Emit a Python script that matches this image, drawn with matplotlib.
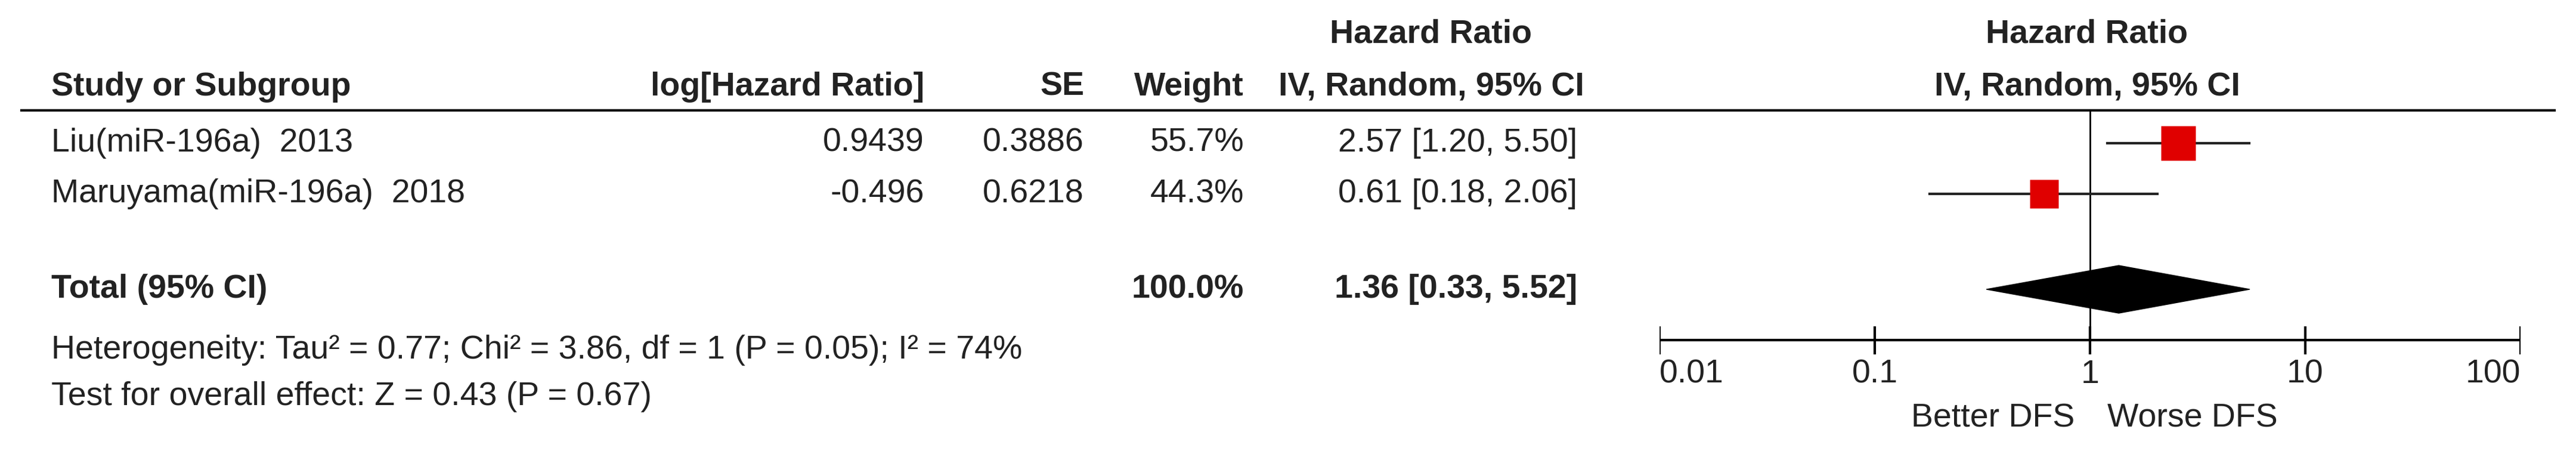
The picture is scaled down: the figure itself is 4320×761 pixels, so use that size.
import matplotlib
matplotlib.use('Agg')
import matplotlib.pyplot as plt
from matplotlib.patches import Polygon

# data
studies = ['Liu(miR-196a)  2013', 'Maruyama(miR-196a)  2018']
log_hr = ['0.9439', '-0.496']
se = ['0.3886', '0.6218']
weights = ['55.7%', '44.3%']
hr = [2.57, 0.61]
lo = [1.20, 0.18]
hi = [5.50, 2.06]
box_pt = [42, 35]
total_hr, total_lo, total_hi = 1.36, 0.33, 5.52
ticks = [0.01, 0.1, 1, 10, 100]
tick_labels = ['0.01', '0.1', '1', '10', '100']

W, H = 4320, 761
FS = 40
FONT = 'Liberation Sans'
plt.rcParams['font.family'] = [FONT, 'DejaVu Sans']

fig = plt.figure(figsize=(W / 100, H / 100), dpi=100)
ax = fig.add_axes([0, 0, 1, 1])
ax.set_xlim(0, W)
ax.set_ylim(H, 0)
ax.axis('off')

row_y = [240, 325]
tot_y = 485
col = '#222222'

def t(x, y, s, ha='left', bold=False, **kw):
    ax.text(x, y, s, ha=ha, va='center', fontsize=FS, color=col,
            fontweight='bold' if bold else 'normal', **kw)

# headers
t(2400, 58, 'Hazard Ratio', ha='center', bold=True)
t(3500, 58, 'Hazard Ratio', ha='center', bold=True)
t(86, 146, 'Study or Subgroup', bold=True)
t(1550, 146, 'log[Hazard Ratio]', ha='right', bold=True)
t(1818, 146, 'SE', ha='right', bold=True)
t(2086, 146, 'Weight', ha='right', bold=True)
t(2400, 146, 'IV, Random, 95% CI', ha='center', bold=True)
t(3500, 146, 'IV, Random, 95% CI', ha='center', bold=True)
ax.plot([34, 4286], [185, 185], color='black', lw=3, solid_capstyle='butt')

for i, y in enumerate(row_y):
    t(86, y, studies[i])
    t(1550, y, log_hr[i], ha='right')
    t(1818, y, se[i], ha='right')
    t(2086, y, weights[i], ha='right')
    t(2645, y, f'{hr[i]:.2f} [{lo[i]:.2f}, {hi[i]:.2f}]', ha='right')

t(86, tot_y, 'Total (95% CI)', bold=True)
t(2086, tot_y, '100.0%', ha='right', bold=True)
t(2645, tot_y, f'{total_hr:.2f} [{total_lo:.2f}, {total_hi:.2f}]', ha='right', bold=True)
t(86, 587, 'Heterogeneity: Tau\u00b2 = 0.77; Chi\u00b2 = 3.86, df = 1 (P = 0.05); I\u00b2 = 74%')
t(86, 665, 'Test for overall effect: Z = 0.43 (P = 0.67)')

# forest panel
fx0, fx1 = 2783, 4227
fa = fig.add_axes([fx0 / W, 0, (fx1 - fx0) / W, 1])
fa.set_xscale('log')
fa.set_xlim(0.01, 100)
fa.set_ylim(H, 0)
fa.axis('off')
fa.patch.set_alpha(0)

fa.plot([1, 1], [186, 570], color='black', lw=2)
for i, y in enumerate(row_y):
    fa.plot([lo[i], hi[i]], [y, y], color=col, lw=3)
    fa.plot([hr[i]], [y], marker='s', ms=box_pt[i], color='#e00000', mec='none')

fa.add_patch(Polygon([(total_lo, tot_y), (total_hr, tot_y - 40),
                      (total_hi, tot_y), (total_hr, tot_y + 40)],
                     closed=True, color='black'))

fa.plot([0.01, 100], [570, 570], color='black', lw=3, solid_capstyle='butt')
for tk in ticks:
    fa.plot([tk, tk], [547, 594], color='black', lw=3, solid_capstyle='butt')
ax.text(fx0, 628, tick_labels[0], ha='left', va='center', fontsize=FS, color=col)
for tk, lb in zip(ticks[1:-1], tick_labels[1:-1]):
    fa.text(tk, 628, lb, ha='center', va='center', fontsize=FS, color=col)
ax.text(fx1, 628, tick_labels[-1], ha='right', va='center', fontsize=FS, color=col)
fa.text(0.85, 702, 'Better DFS', ha='right', va='center', fontsize=FS, color=col)
fa.text(1.2, 702, 'Worse DFS', ha='left', va='center', fontsize=FS, color=col)

fig.savefig('out.png', dpi=100, facecolor='white')
